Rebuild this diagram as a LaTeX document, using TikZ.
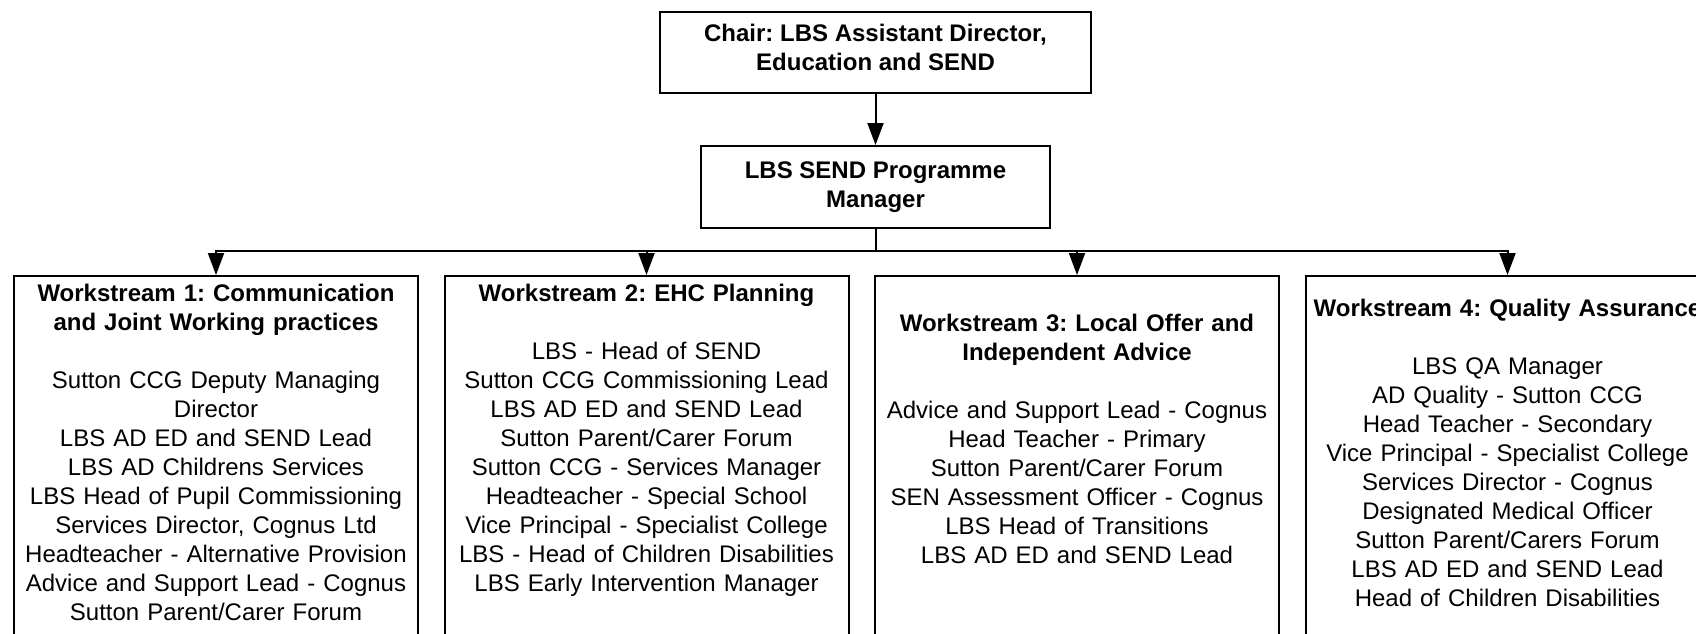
\documentclass[tikz,border=0pt]{standalone}
\usepackage{fontspec}
\setmainfont{Liberation Sans}
\frenchspacing
\usepackage{tikz}
\usetikzlibrary{arrows.meta,positioning}
\tikzset{
    %Define standard arrow tip
    >={Triangle[length=22pt,width=16pt]},
    %Define style for the two boxes on top
    headbox/.style={
           rectangle,
           draw=black, line width=2pt,
           align=center,
           font=\fontsize{24}{29}\selectfont\bfseries},
    %Define style for workstream boxes
    streambox/.style={
           rectangle,
           draw=black, line width=2pt,
           minimum width=404pt,
           minimum height=400pt,
           anchor=north},
    streamtext/.style={
           inner sep=0pt,
           text width=400pt,
           align=center,
           font=\fontsize{24}{29}\selectfont},
    % Define arrow style
    link/.style={
           ->,
           line width=2pt}
}

\begin{document}
\begin{tikzpicture}[x=1pt,y=-1pt]
\useasboundingbox (0,0) rectangle (1696,633);
\clip (0,0) rectangle (1696,633);

 %nodes
\node[headbox, minimum width=431pt, minimum height=81pt, text depth=11pt] (chair) at (875.5,52.5)
    {Chair: LBS Assistant Director,\\Education and SEND};
\node[headbox, minimum width=349pt, minimum height=82pt, below=51pt of chair] (pm)
    {LBS SEND Programme\\Manager};
\coordinate[below=22pt of pm] (bus);

\node[streambox] (ws1) at (216,275) {};
\node[streambox, right=24.5pt of ws1] (ws2) {};
\node[streambox, right=24.5pt of ws2] (ws3) {};
\node[streambox, right=24.5pt of ws3] (ws4) {};

\node[streamtext, below=9pt of ws1.north] (ws1 text)
    {{\bfseries Workstream 1: Communication\\and Joint Working practices}\\[29pt]
     Sutton CCG Deputy Managing\\Director\\LBS AD ED and SEND Lead\\
     LBS AD Childrens Services\\LBS Head of Pupil Commissioning\\
     Services Director, Cognus Ltd\\Headteacher - Alternative Provision\\
     Advice and Support Lead - Cognus\\Sutton Parent/Carer Forum};
\node[streamtext, below=9pt of ws2.north] (ws2 text)
    {{\bfseries Workstream 2: EHC Planning}\\[29pt]
     LBS - Head of SEND\\Sutton CCG Commissioning Lead\\
     LBS AD ED and SEND Lead\\Sutton Parent/Carer Forum\\
     Sutton CCG - Services Manager\\Headteacher - Special School\\
     Vice Principal - Specialist College\\LBS - Head of Children Disabilities\\
     LBS Early Intervention Manager};
\node[streamtext, below=39pt of ws3.north] (ws3 text)
    {{\bfseries Workstream 3: Local Offer and\\Independent Advice}\\[29pt]
     Advice and Support Lead - Cognus\\Head Teacher - Primary\\
     Sutton Parent/Carer Forum\\SEN Assessment Officer - Cognus\\
     LBS Head of Transitions\\LBS AD ED and SEND Lead};
\node[streamtext, below=24pt of ws4.north] (ws4 text)
    {{\bfseries Workstream 4: Quality Assurance}\\[29pt]
     LBS QA Manager\\AD Quality - Sutton CCG\\Head Teacher - Secondary\\
     Vice Principal - Specialist College\\Services Director - Cognus\\
     Designated Medical Officer\\Sutton Parent/Carers Forum\\
     LBS AD ED and SEND Lead\\Head of Children Disabilities};

 %connectors
\draw[link] (chair) -- (pm);
\draw[line width=2pt] (pm) -- (bus);
\foreach \ws in {ws1,ws2,ws3,ws4}
    \draw[link] (bus) -| (\ws.north);

\end{tikzpicture}
\end{document}
